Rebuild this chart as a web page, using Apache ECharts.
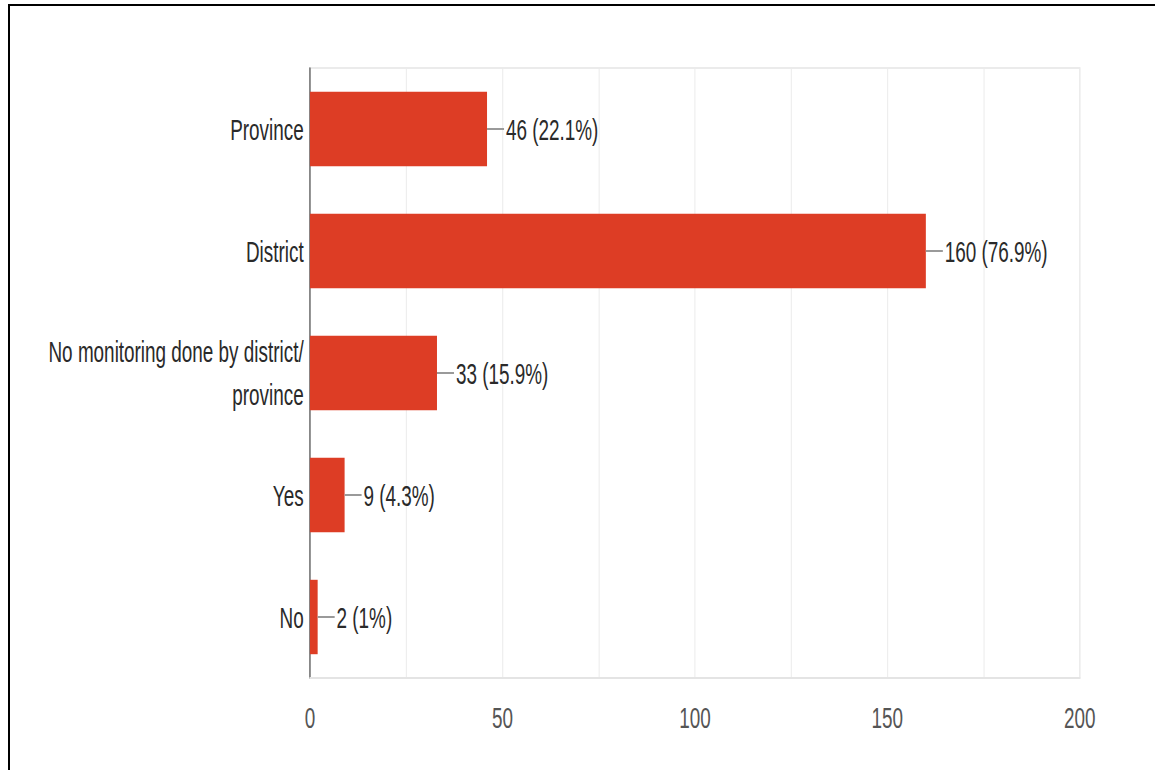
<!DOCTYPE html>
<html>
<head>
<meta charset="utf-8">
<script src="https://cdn.jsdelivr.net/npm/echarts@6/dist/echarts.min.js"></script>
<style>
  html, body { margin: 0; padding: 0; background: #fff; overflow: hidden; }
  #stage { position: absolute; left: 0; top: 0; width: 1155px; height: 770px; overflow: hidden; background: #fff; }
  #frame { position: absolute; left: 8px; top: 4px; width: 1200px; height: 820px; border: 2px solid #000; box-sizing: border-box; }
  /* narrow, tall lettering: the chart is laid out wide and squeezed horizontally */
  #chart { position: absolute; left: 0; top: 0; width: 1833px; height: 770px; transform: scaleX(0.63); transform-origin: 0 0; }
</style>
</head>
<body>
<div id="stage">
  <div id="frame"></div>
  <div id="chart"></div>
</div>
<script>
const categories = [
  'Province',
  'District',
  'No monitoring done by district/\nprovince',
  'Yes',
  'No'
];
const counts = [46, 160, 33, 9, 2];
const percents = ['22.1%', '76.9%', '15.9%', '4.3%', '1%'];
const axisTicks = [0, 50, 100, 150, 200];

const FONT = '"Liberation Sans", Arial, sans-serif';
const chart = echarts.init(document.getElementById('chart'), null, { renderer: 'svg' });

chart.setOption({
  animation: false,
  backgroundColor: 'transparent',
  grid: {
    left: 492, top: 68, width: 1222, bottom: 92,
    show: true, borderColor: '#ebebeb', borderWidth: 2, backgroundColor: 'transparent'
  },
  xAxis: {
    type: 'value',
    min: 0, max: 200, interval: 25,
    axisLine: { show: true, lineStyle: { color: '#e4e4e4', width: 2 } },
    axisTick: { show: false },
    splitLine: { show: true, lineStyle: { color: '#ebebeb', width: 1.6 } },
    axisLabel: {
      margin: 24,
      fontFamily: FONT, fontSize: 30, color: '#555',
      formatter: v => axisTicks.includes(v) ? String(v) : ''
    }
  },
  yAxis: {
    type: 'category',
    inverse: true,
    data: categories,
    axisLine: { show: true, lineStyle: { color: '#333', width: 1.6 } },
    axisTick: { show: false },
    splitLine: { show: false },
    axisLabel: {
      margin: 10,
      fontFamily: FONT, fontSize: 30, lineHeight: 43, color: '#2a2a2a'
    }
  },
  series: [{
    type: 'bar',
    data: counts,
    barWidth: '61%',
    itemStyle: { color: '#dd3d25' },
    label: {
      show: true,
      position: 'right',
      distance: 0,
      formatter: p => '{lead|}{val|' + counts[p.dataIndex] + ' (' + percents[p.dataIndex] + ')}',
      rich: {
        lead: { width: 27, height: 2, backgroundColor: '#9a9a9a' },
        val: { fontFamily: FONT, fontSize: 30, color: '#2a2a2a', padding: [0, 0, 0, 3] }
      }
    }
  }]
});
</script>
</body>
</html>
